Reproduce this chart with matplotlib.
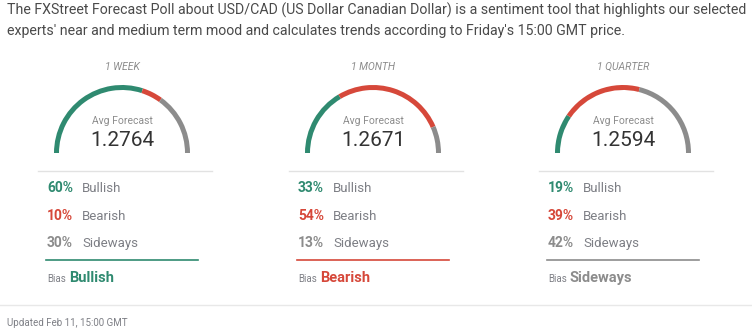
import matplotlib
matplotlib.use('Agg')
import matplotlib.pyplot as plt
from matplotlib.patches import Wedge

plt.rcParams['font.family'] = ['Roboto', 'DejaVu Sans']

# data
periods = ['1 WEEK', '1 MONTH', '1 QUARTER']
avg_forecast = ['1.2764', '1.2671', '1.2594']
bullish = [60, 33, 19]
bearish = [10, 54, 39]
sideways = [30, 13, 42]
bias = ['Bullish', 'Bearish', 'Sideways']

GREEN = '#2f8a70'
RED = '#d6483a'
GRAY = '#8c8c8c'
TEXT = '#7d7f85'
bias_color = {'Bullish': GREEN, 'Bearish': RED, 'Sideways': GRAY}

W, H = 752, 334
fig = plt.figure(figsize=(W / 100, H / 100), dpi=100)
ax = fig.add_axes([0, 0, 1, 1])
ax.set_xlim(0, W)
ax.set_ylim(0, H)
ax.axis('off')

def Y(py):
    # pixel row from top -> data y
    return H - py

header = ("The FXStreet Forecast Poll about USD/CAD (US Dollar Canadian Dollar) is a sentiment tool that highlights our selected\n"
          "experts' near and medium term mood and calculates trends according to Friday's 15:00 GMT price.")
ax.text(7, Y(3), header, fontsize=10.2, color='#4a4a4a', va='top', ha='left', linespacing=1.55)

centers = [122, 373, 623]
for i, cx in enumerate(centers):
    cy = Y(153)
    r = 68
    # gauge arc: green from left, then red, then gray
    start = 180.0
    for val, col in [(bullish[i], GREEN), (bearish[i], RED), (sideways[i], GRAY)]:
        end = start - 180.0 * val / 100
        ax.add_patch(Wedge((cx, cy), r, end, start, width=5, color=col, lw=0))
        start = end
    ax.text(cx, Y(67), periods[i], fontsize=7.5, style='italic', color=GRAY,
            ha='center', va='center')
    ax.text(cx, Y(121), 'Avg Forecast', fontsize=7.5, color=GRAY, ha='center', va='center')
    ax.text(cx, Y(141), avg_forecast[i], fontsize=15, color='#333333', ha='center', va='center')

    x0 = cx - 84
    ax.plot([x0, cx + 90], [Y(171), Y(171)], color='#e2e2e2', lw=1)
    rows = [(bullish[i], 'Bullish', GREEN, 188), (bearish[i], 'Bearish', RED, 216),
            (sideways[i], 'Sideways', GRAY, 243)]
    for val, lab, col, py in rows:
        ax.text(cx - 75, Y(py), '%d%%' % val, fontsize=10, fontweight='bold', color=col,
                ha='left', va='center')
        ax.text(cx - 40, Y(py), lab, fontsize=9.5, color=TEXT, ha='left', va='center')
    bc = bias_color[bias[i]]
    ax.plot([cx - 76, cx + 76], [Y(260), Y(260)], color=bc, lw=1.2)
    ax.text(cx - 75, Y(279), 'Bias', fontsize=7, color=TEXT, ha='left', va='center')
    ax.text(cx - 53, Y(278), bias[i], fontsize=10.5, fontweight='bold', color=bc,
            ha='left', va='center')

ax.plot([0, W], [Y(305), Y(305)], color='#e8e8e8', lw=1)
ax.text(7, Y(323), 'Updated Feb 11, 15:00 GMT', fontsize=7, color=TEXT, ha='left', va='center')

fig.savefig('out.png', dpi=100, facecolor='white')
